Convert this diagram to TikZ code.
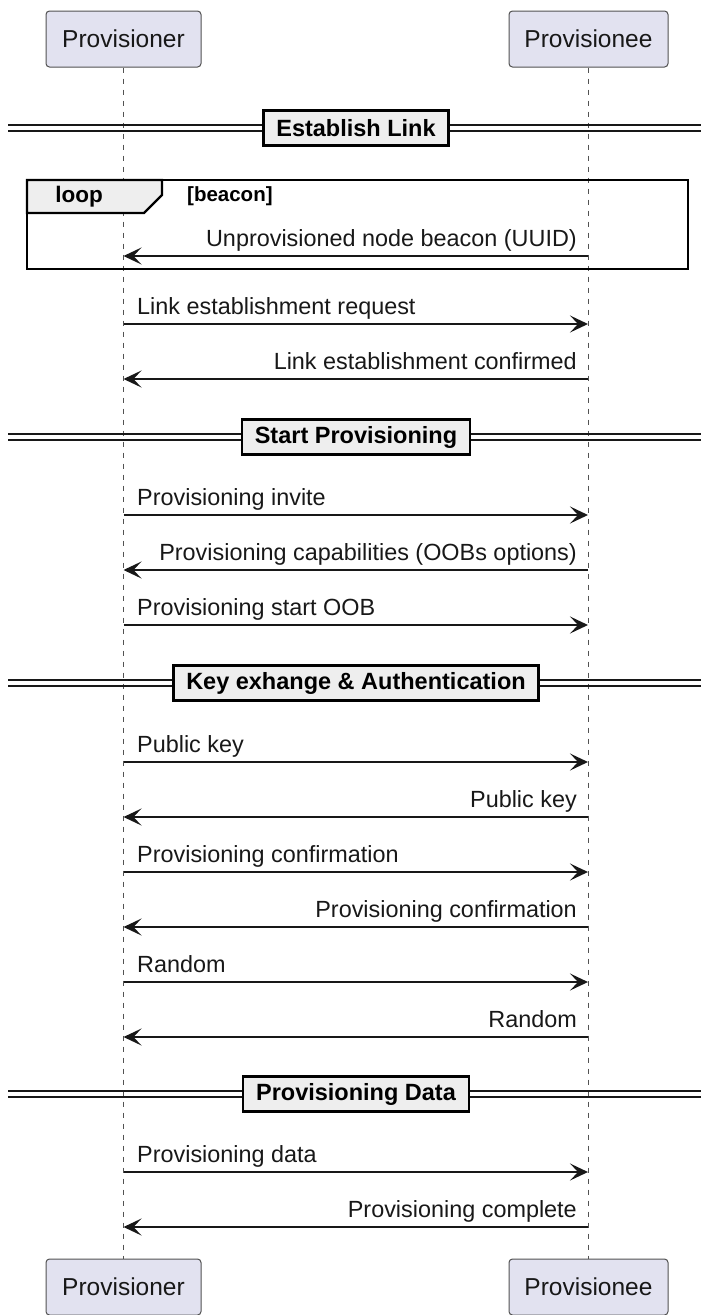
\documentclass[tikz,border=0pt]{standalone}
\usepackage{fontspec}
\setmainfont{Liberation Sans}
\usetikzlibrary{arrows.meta}
\definecolor{partfill}{HTML}{E2E2F0}
\definecolor{partdraw}{HTML}{181818}
\definecolor{divfill}{HTML}{EEEEEE}
\definecolor{ink}{HTML}{181818}
\tikzset{
  part/.style={draw=partdraw!75, fill=partfill, line width=1pt, rounded corners=3.5pt,
    minimum height=56pt, inner sep=0pt, font=\fontsize{24.5}{28}\selectfont, text=ink},
  life/.style={draw=ink!75, line width=1pt, dash pattern=on 5.5pt off 5.5pt},
  msg/.style={draw=ink, line width=1.6pt, -{Stealth[length=18pt,width=17pt,inset=8pt]}},
  lbl/.style={inner sep=0pt, font=\fontsize{23.4}{26}\selectfont, text=ink},
  dbl/.style={draw=ink, line width=1.8pt},
  divbox/.style={draw=black, fill=divfill, line width=2.6pt, minimum height=35pt,
    inner xsep=13pt, inner ysep=0pt, font=\fontsize{23.5}{26}\bfseries\selectfont},
  frame/.style={draw=black, line width=2.6pt},
  tabst/.style={draw=black, fill=divfill, line width=2.2pt, line join=miter},
}
\newcommand\rmsg[3]{%
  \coordinate (#1L) at (123.5,#2); \coordinate (#1R) at (588,#2);
  \draw[msg] (#1L) -- (#1R);
  \node[lbl, anchor=base west] (#1t) at (137,#2-10) {#3};}
\newcommand\lmsg[3]{%
  \coordinate (#1L) at (123.5,#2); \coordinate (#1R) at (588,#2);
  \draw[msg] (#1R) -- (#1L);
  \node[lbl, anchor=base east] (#1t) at (577,#2-10) {#3};}
\newcommand\divider[3]{%
  \coordinate (#1a) at (8,#2-3); \coordinate (#1b) at (701,#2-3);
  \coordinate (#1c) at (8,#2+3); \coordinate (#1d) at (701,#2+3);
  \draw[dbl] (#1a) -- (#1b); \draw[dbl] (#1c) -- (#1d);
  \node[divbox] (#1) at (356,#2) {#3};}
\begin{document}
\begin{tikzpicture}[x=1pt,y=-1pt]
\useasboundingbox (0,0) rectangle (701,1315);
% participants
\node[part, minimum width=155pt] (pL) at (123.5,39) {Provisioner};
\node[part, minimum width=159pt] (pR) at (588.5,39) {Provisionee};
\node[part, minimum width=155pt] (pLb) at (123.5,1287) {Provisioner};
\node[part, minimum width=159pt] (pRb) at (588.5,1287) {Provisionee};
\draw[life] (pL.south) -- (pLb.north);
\draw[life] (pR.south) -- (pRb.north);
% establish link
\divider{d1}{128}{Establish Link}
% loop frame
\draw[frame] (27,180) rectangle (688,269);
\draw[tabst] (27,180) -- (162,180) -- (162,195) -- (144,213) -- (27,213) -- cycle;
\node[inner sep=0pt, font=\fontsize{22.5}{26}\bfseries\selectfont] (looplbl) at (79,197) {loop};
\node[inner sep=0pt, anchor=west, font=\fontsize{20.5}{22}\bfseries\selectfont] (cond) at (187,196) {[beacon]};
\lmsg{m0}{256}{Unprovisioned node beacon (UUID)}
\rmsg{m1}{324}{Link establishment request}
\lmsg{m2}{379}{Link establishment confirmed}
\divider{d2}{437}{Start Provisioning}
\rmsg{m3}{515}{Provisioning invite}
\lmsg{m4}{570}{Provisioning capabilities (OOBs options)}
\rmsg{m5}{625}{Provisioning start OOB}
\divider{d3}{683}{Key exhange \& Authentication}
\rmsg{m6}{762}{Public key}
\lmsg{m7}{817}{Public key}
\rmsg{m8}{872}{Provisioning confirmation}
\lmsg{m9}{927}{Provisioning confirmation}
\rmsg{m10}{982}{Random}
\lmsg{m11}{1037}{Random}
\divider{d4}{1094}{Provisioning Data}
\rmsg{m12}{1172}{Provisioning data}
\lmsg{m13}{1227}{Provisioning complete}
\end{tikzpicture}
\end{document}
